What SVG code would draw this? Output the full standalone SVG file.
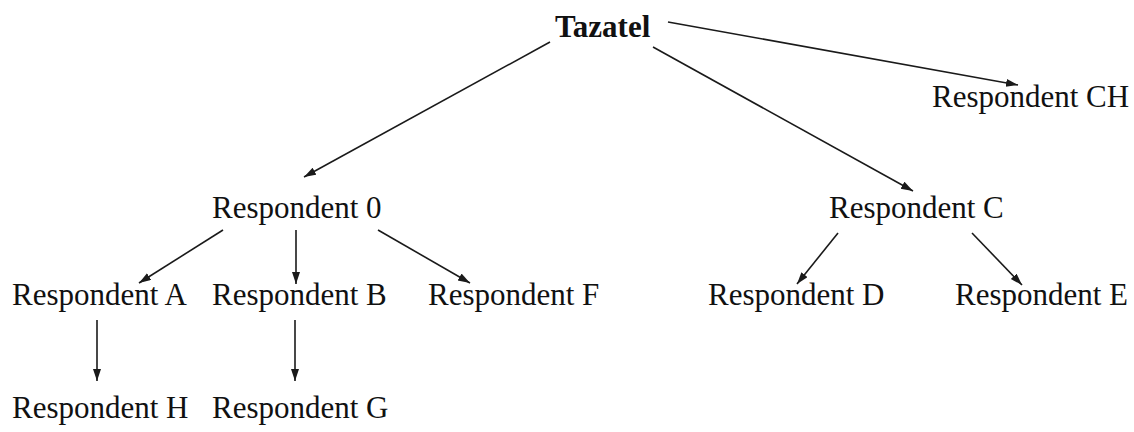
<svg xmlns="http://www.w3.org/2000/svg" width="1134" height="432" viewBox="0 0 1134 432">
<style>
text{font-family:"Liberation Serif","Times New Roman",serif;font-size:31px;fill:#111}
.b{font-weight:bold}
.e{stroke:#1a1a1a;stroke-width:1.6;fill:none;marker-end:url(#ah)}
</style>
<defs>
<marker id="ah" markerUnits="userSpaceOnUse" markerWidth="13" markerHeight="9" refX="12" refY="4" orient="auto">
<path d="M0,0 L12,4 L0,8 z" fill="#1a1a1a"/>
</marker>
</defs>
<rect width="1134" height="432" fill="#fff"/>
<g id="connectors">
<line class="e" x1="550" y1="42" x2="304" y2="177"/>
<line class="e" x1="668" y1="22" x2="1018" y2="85"/>
<line class="e" x1="653" y1="47" x2="913" y2="191"/>
<line class="e" x1="223" y1="230" x2="139" y2="283"/>
<line class="e" x1="296" y1="230" x2="296" y2="284"/>
<line class="e" x1="378" y1="230" x2="470" y2="283"/>
<line class="e" x1="838" y1="233" x2="797" y2="284"/>
<line class="e" x1="972" y1="233" x2="1022" y2="285"/>
<line class="e" x1="97" y1="320" x2="97" y2="381"/>
<line class="e" x1="295" y1="320" x2="295" y2="381"/>
</g>
<g id="n-tazatel"><text class="b" x="555" y="37">Tazatel</text></g>
<g id="n-ch"><text x="932" y="107">Respondent CH</text></g>
<g id="n-0"><text x="212" y="218">Respondent 0</text></g>
<g id="n-c"><text x="829" y="218">Respondent C</text></g>
<g id="n-a"><text x="12" y="305">Respondent A</text></g>
<g id="n-b"><text x="212" y="305">Respondent B</text></g>
<g id="n-f"><text x="428" y="305">Respondent F</text></g>
<g id="n-d"><text x="708" y="305">Respondent D</text></g>
<g id="n-e"><text x="955" y="305">Respondent E</text></g>
<g id="n-h"><text x="12" y="418">Respondent H</text></g>
<g id="n-g"><text x="212" y="418">Respondent G</text></g>
</svg>
